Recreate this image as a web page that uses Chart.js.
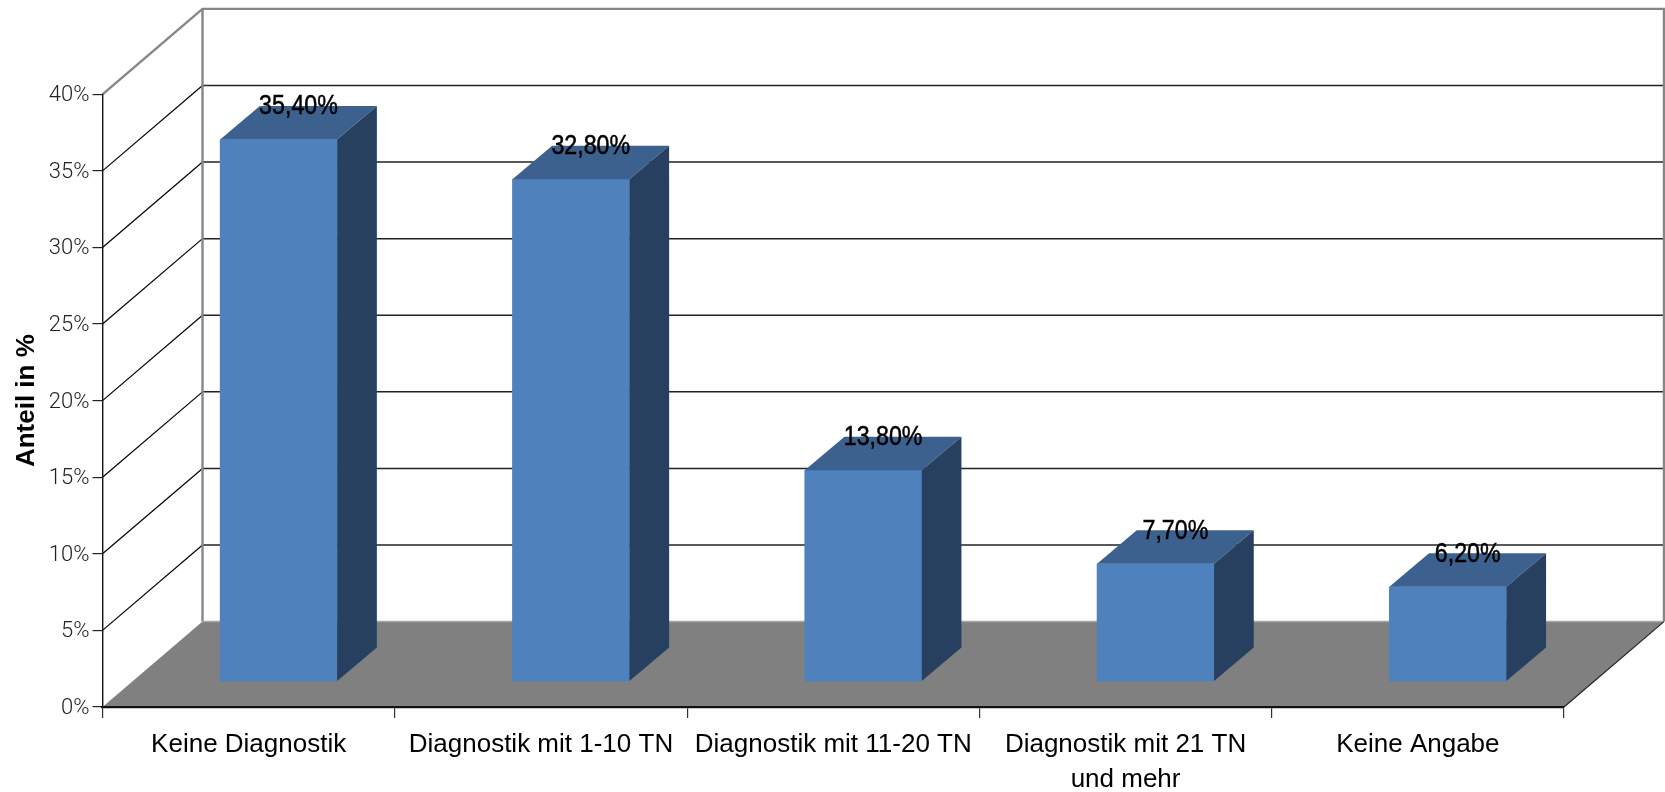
<!DOCTYPE html>
<html><head><meta charset="utf-8">
<style>html,body{margin:0;padding:0;background:#fff}canvas{display:block}</style>
<script src="https://cdn.jsdelivr.net/npm/chart.js@4"></script>
</head><body><div style="width:1665px;height:792px"><canvas id="c" width="1665" height="792"></canvas></div>
<script>
const categories = ["Keine Diagnostik","Diagnostik mit 1-10 TN","Diagnostik mit 11-20 TN",["Diagnostik mit 21 TN","und mehr"],"Keine Angabe"];
const values = [35.4,32.8,13.8,7.7,6.2];
const valueLabels = ["35,40%","32,80%","13,80%","7,70%","6,20%"];
const axisTitle = "Anteil in %";

const WALL = {dx:100, dy:85.4};
const BAR = {ox:30, oy:25.3, dx:39.7, dy:33.5};

const scene = {
  id:'scene',
  beforeDraw(chart){
    const {ctx, chartArea:a, scales:{y}} = chart;
    const y0=y.getPixelForValue(0), yT=y.getPixelForValue(40), L=a.left, R=a.right;
    ctx.save();
    ctx.fillStyle='#808080';
    ctx.beginPath();ctx.moveTo(L,y0);ctx.lineTo(L+WALL.dx,y0-WALL.dy);ctx.lineTo(R+WALL.dx,y0-WALL.dy);ctx.lineTo(R,y0);ctx.closePath();ctx.fill();
    for(let v=5;v<40;v+=5){
      const p=y.getPixelForValue(v);
      ctx.strokeStyle='#000';ctx.lineWidth=1.2;
      ctx.beginPath();ctx.moveTo(L,p);ctx.lineTo(L+WALL.dx,p-WALL.dy);ctx.stroke();
      ctx.strokeStyle='#222';ctx.lineWidth=1.5;
      ctx.beginPath();ctx.moveTo(L+WALL.dx,p-WALL.dy);ctx.lineTo(R+WALL.dx,p-WALL.dy);ctx.stroke();
    }
    ctx.strokeStyle='#868686';ctx.lineWidth=2.4;
    ctx.beginPath();ctx.moveTo(L,yT);ctx.lineTo(L+WALL.dx,yT-WALL.dy);ctx.lineTo(R+WALL.dx,yT-WALL.dy);ctx.lineTo(R+WALL.dx,y0-WALL.dy);ctx.stroke();
    ctx.beginPath();ctx.moveTo(L+WALL.dx,yT-WALL.dy);ctx.lineTo(L+WALL.dx,y0-WALL.dy);ctx.stroke();
    ctx.strokeStyle='#a6a6a6';ctx.lineWidth=1.5;
    ctx.beginPath();ctx.moveTo(L+WALL.dx,y0-WALL.dy);ctx.lineTo(R+WALL.dx,y0-WALL.dy);ctx.stroke();
    ctx.strokeStyle='#222';ctx.lineWidth=1.2;
    ctx.beginPath();ctx.moveTo(R,y0);ctx.lineTo(R+WALL.dx,y0-WALL.dy);ctx.stroke();
    ctx.restore();
  },
  beforeDatasetDraw(chart){
    const ctx=chart.ctx;ctx.save();ctx.translate(BAR.ox,-BAR.oy);
  },
  afterDatasetDraw(chart,args){
    const ctx=chart.ctx;
    args.meta.data.forEach(el=>{
      const l=el.x-el.width/2, r=el.x+el.width/2, t=el.y, b=el.base;
      ctx.fillStyle='#3D618F';
      ctx.beginPath();ctx.moveTo(l,t);ctx.lineTo(l+BAR.dx,t-BAR.dy);ctx.lineTo(r+BAR.dx,t-BAR.dy);ctx.lineTo(r,t);ctx.closePath();ctx.fill();
      ctx.fillStyle='#28405F';
      ctx.beginPath();ctx.moveTo(r,t);ctx.lineTo(r+BAR.dx,t-BAR.dy);ctx.lineTo(r+BAR.dx,b-BAR.dy);ctx.lineTo(r,b);ctx.closePath();ctx.fill();
    });
    ctx.fillStyle='#000';ctx.strokeStyle='#000';ctx.lineWidth=0.5;ctx.textAlign='center';ctx.textBaseline='middle';
    ctx.font='27px "Liberation Sans"';
    args.meta.data.forEach((el,i)=>{
      ctx.save();
      ctx.translate(el.x+BAR.dx/2, el.y-BAR.dy+1);
      ctx.scale(0.86,1);
      ctx.fillText(valueLabels[i],0,0);
      ctx.strokeText(valueLabels[i],0,0);
      ctx.restore();
    });
    ctx.restore();
  }
};

new Chart(document.getElementById('c'),{
  type:'bar',
  data:{labels:categories,datasets:[{data:values,backgroundColor:'#4F81BD',borderWidth:0,barThickness:117,clip:false}]},
  options:{
    responsive:false,animation:false,
    layout:{padding:{top:94.3,right:101,left:0,bottom:0}},
    plugins:{legend:{display:false},tooltip:{enabled:false}},
    scales:{
      x:{
        afterFit(s){s.height=85;},
        grid:{drawOnChartArea:false,drawTicks:true,tickLength:11,color:'#333',lineWidth:1.2},
        border:{display:true,color:'#111',width:2.2},
        ticks:{color:'#000',padding:9,maxRotation:0,autoSkip:false,font:{family:'"Liberation Sans"',size:26,lineHeight:1.36}}
      },
      y:{
        min:0,max:40,
        afterFit(s){s.width=102.5;},
        title:{display:true,text:axisTitle,color:'#000',padding:{top:11,bottom:0},font:{family:'"Liberation Sans"',size:26,weight:'bold'}},
        grid:{drawOnChartArea:false,drawTicks:true,tickLength:10,color:'#222',lineWidth:1.2},
        border:{display:true,color:'#111',width:1.4},
        ticks:{stepSize:5,color:'#222',padding:3,labelOffset:1.5,callback:v=>v+'%',font:{family:'Roboto',size:22,weight:'300'}}
      }
    }
  },
  plugins:[scene]
});
</script></body></html>
